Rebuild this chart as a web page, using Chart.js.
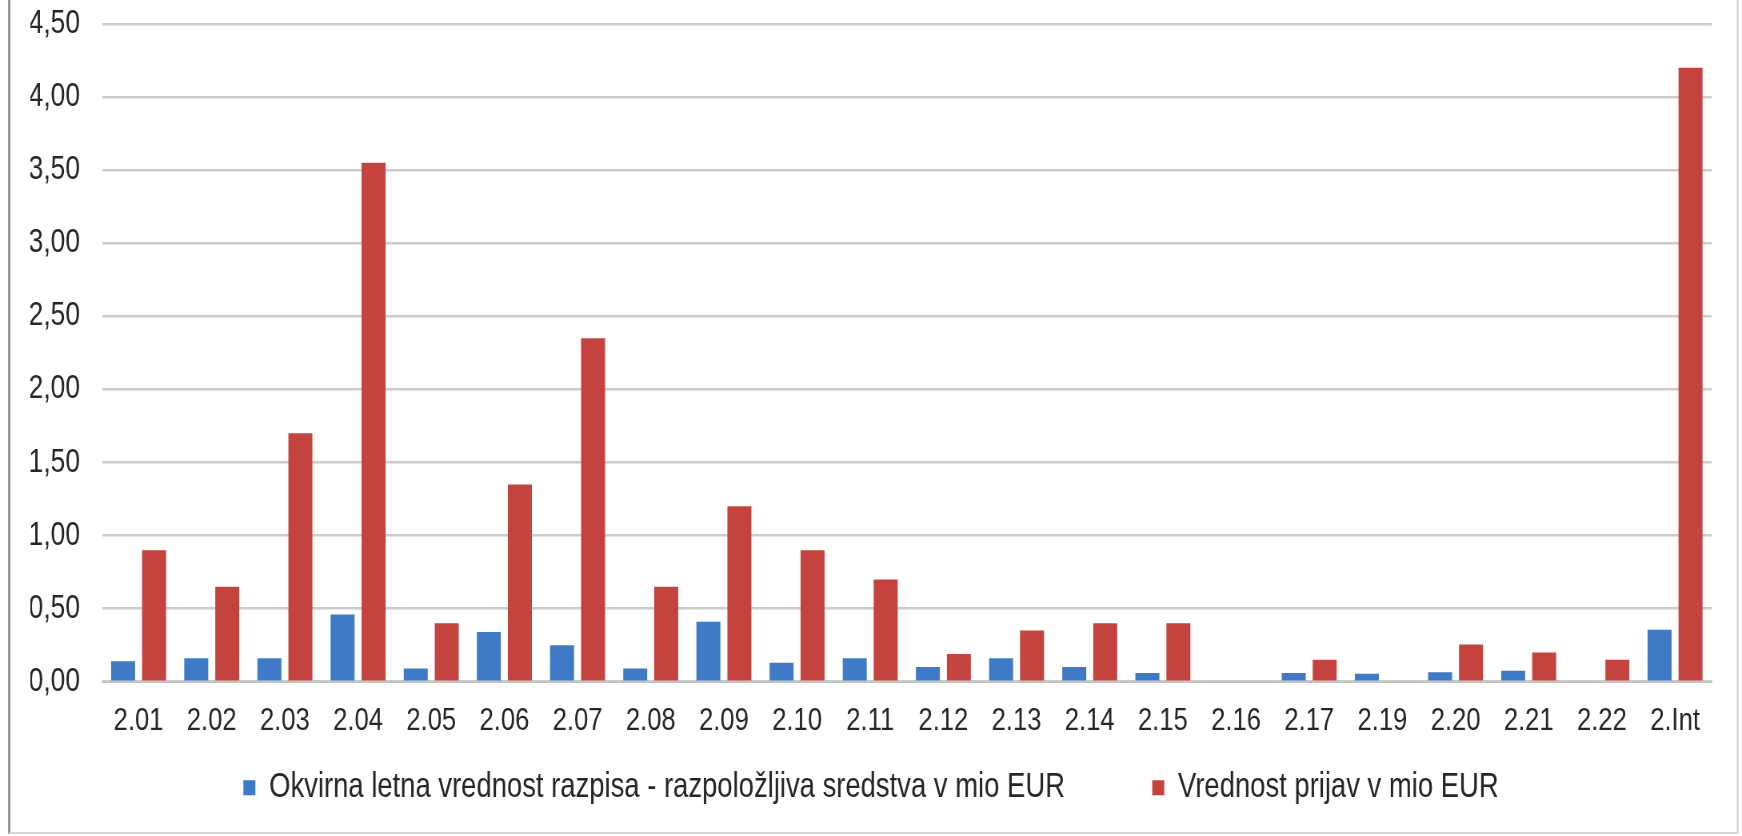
<!DOCTYPE html>
<html>
<head>
<meta charset="utf-8">
<script src="https://cdn.jsdelivr.net/npm/chart.js@4"></script>
<style>
  html, body { margin: 0; padding: 0; background: #ffffff; overflow: hidden; }
  #wrap { width: 1742px; height: 836px; position: relative; overflow: hidden; }
  #c { position: absolute; left: 0; top: 0; transform-origin: 0 0; }
</style>
</head>
<body>
<div id="wrap"><canvas id="c" width="2178" height="836"></canvas></div>
<script>
const categories = ['2.01','2.02','2.03','2.04','2.05','2.06','2.07','2.08','2.09','2.10','2.11','2.12','2.13','2.14','2.15','2.16','2.17','2.19','2.20','2.21','2.22','2.Int'];
const availableFunds = [0.14,0.16,0.16,0.46,0.09,0.34,0.25,0.09,0.41,0.13,0.16,0.10,0.16,0.10,0.06,null,0.06,0.055,0.065,0.075,null,0.355];
const applicationsValue = [0.90,0.65,1.70,3.55,0.40,1.35,2.35,0.65,1.20,0.90,0.70,0.19,0.35,0.40,0.40,null,0.15,null,0.255,0.20,0.15,4.20];
const seriesNames = ['Okvirna letna vrednost razpisa - razpoložljiva sredstva v mio EUR', 'Vrednost prijav v mio EUR'];
const yTickValues = [0, 0.5, 1, 1.5, 2, 2.5, 3, 3.5, 4, 4.5];

// the reference uses a condensed face; draw on a wider canvas and squeeze it horizontally
const PAGE_W = 1742, CANVAS_W = 2178;
const canvas = document.getElementById('c');
canvas.style.transform = 'scaleX(' + (PAGE_W / CANVAS_W) + ')';

const FONT = "'Liberation Sans', Arial, sans-serif";
const TEXT = '#262626';

const framePlugin = {
  id: 'frame',
  beforeDraw(chart) {
    const ctx = chart.ctx;
    ctx.save();
    ctx.fillStyle = '#ffffff';
    ctx.fillRect(0, 0, chart.width, chart.height);
    ctx.restore();
  },
  afterDraw(chart) {
    const ctx = chart.ctx;
    ctx.save();
    ctx.lineWidth = 2.5;
    ctx.strokeStyle = '#808080';
    ctx.beginPath(); ctx.moveTo(11.5, 0); ctx.lineTo(11.5, 834); ctx.stroke();
    ctx.strokeStyle = '#d6d6d6';
    ctx.beginPath(); ctx.moveTo(2172.5, 0); ctx.lineTo(2172.5, 834); ctx.stroke();
    ctx.lineWidth = 2;
    ctx.beginPath(); ctx.moveTo(11.5, 833); ctx.lineTo(2172.5, 833); ctx.stroke();
    ctx.restore();
  }
};

new Chart(canvas, {
  type: 'bar',
  data: {
    labels: categories,
    datasets: [
      { label: seriesNames[0] + '        ', data: availableFunds, backgroundColor: '#3F7AC6', categoryPercentage: 0.847, barPercentage: 0.774 },
      { label: seriesNames[1], data: applicationsValue, backgroundColor: '#C5433F', categoryPercentage: 0.847, barPercentage: 0.774 }
    ]
  },
  options: {
    responsive: false,
    animation: false,
    layout: { padding: { left: 38, right: 38, top: 24, bottom: 21 } },
    plugins: {
      tooltip: { enabled: false },
      legend: {
        position: 'bottom',
        labels: {
          font: { family: FONT, size: 34.3 },
          color: TEXT,
          boxWidth: 15,
          boxHeight: 15,
          padding: 33
        }
      }
    },
    scales: {
      x: {
        grid: { display: false, drawTicks: false },
        border: { display: true, color: '#c4c4c4', width: 2 },
        ticks: { font: { family: FONT, size: 32 }, color: TEXT, padding: 20, maxRotation: 0, autoSkip: false },
        afterFit(scale) { scale.height = 56; }
      },
      y: {
        min: 0, max: 4.5,
        afterBuildTicks(scale) { scale.ticks = yTickValues.map(v => ({ value: v })); },
        grid: { color: '#cccccc', lineWidth: 2.5, drawTicks: true, tickLength: 27.5, tickColor: 'rgba(0,0,0,0)' },
        border: { display: false },
        ticks: {
          font: { family: FONT, size: 33 }, color: TEXT, padding: 0,
          callback: (v) => Number(v).toFixed(2).replace('.', ',')
        },
        afterFit(scale) { scale.width = 89.5; }
      }
    }
  },
  plugins: [framePlugin]
});
</script>
</body>
</html>
